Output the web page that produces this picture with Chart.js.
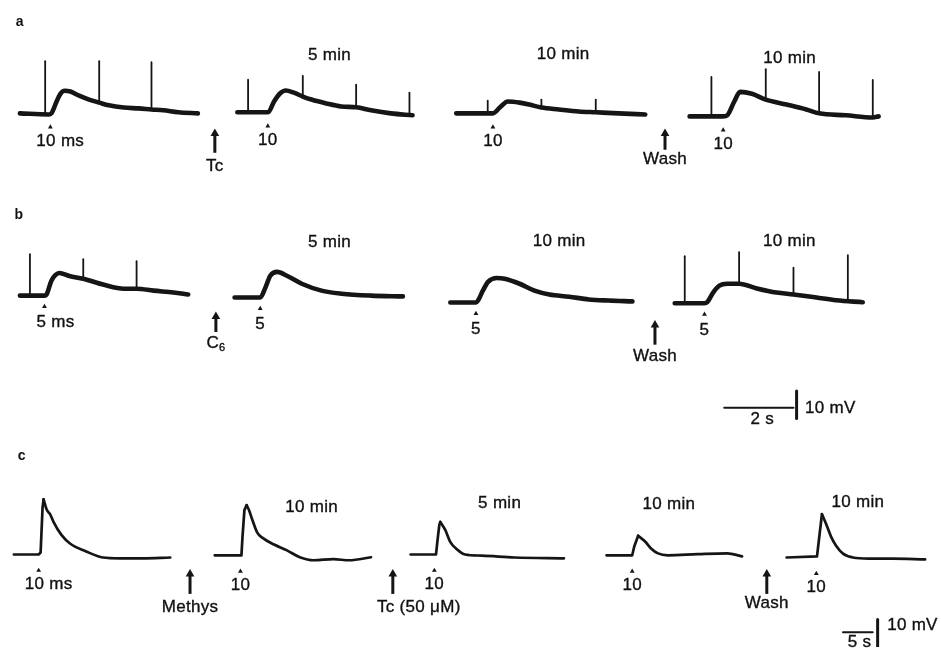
<!DOCTYPE html>
<html>
<head>
<meta charset="utf-8">
<script src="https://cdn.jsdelivr.net/npm/chart.js@4.4.1/dist/chart.umd.min.js"></script>
<style>
  html, body { margin: 0; padding: 0; background: #fff; }
  #wrap { position: relative; width: 941px; height: 652px; overflow: hidden; }
  .lbl { position: absolute; font-family: "Liberation Sans", Arial, sans-serif; font-size: 17px;
         color: #111; white-space: nowrap; line-height: 1; letter-spacing: 0.3px;
         -webkit-text-stroke: 0.35px #111; }
  .lbl.bold { font-weight: bold; font-size: 14px; -webkit-text-stroke: 0; }
  .lbl sub { font-size: 11px; vertical-align: -3px; line-height: 0; }
</style>
</head>
<body>
<div id="wrap"><canvas id="fig"></canvas></div>
<script>
// Every sweep: [time (s) from start of sweep, mV above resting level]
// ---- a : 10 ms stimulus, Tc then wash ----
const a1 = [[0,0],[0.83,-0.4],[0.91,0],[1.06,4.3],[1.17,7.1],[1.29,8.2],[1.46,7.9],[1.71,6.4],[2.0,5.0],[2.29,3.9],[2.57,2.9],[3.0,2.1],[3.43,1.8],[3.8,1.4],[4.14,1.1],[4.57,0.4],[5.14,0]];
const a2 = [[0,0],[0.29,0],[0.89,0],[1.06,3.9],[1.23,6.8],[1.4,7.9],[1.63,7.1],[1.89,5.7],[2.14,4.6],[2.57,3.2],[3.0,2.1],[3.43,1.8],[3.86,0.7],[4.43,-0.4],[5.06,-1.1]];
const a3 = [[0,0],[1.06,0],[1.26,2.1],[1.49,4.3],[1.83,3.9],[2.11,3.2],[2.46,2.1],[2.97,1.4],[3.54,0.7],[4.03,0.4],[4.69,0],[5.46,-0.4]];
const a4 = [[0,0],[0.97,0],[1.09,0.4],[1.29,5.4],[1.46,8.9],[1.8,8.2],[2.2,6.1],[2.8,4.3],[3.37,2.5],[3.74,1.1],[4.51,0.4],[5.29,-0.4],[5.46,0]];
// action potentials: [time, foot mV, tip mV]
const a1Spikes = [[0.73,0,18.9],[2.29,3.9,18.9],[3.8,1.4,18.6]];
const a2Spikes = [[0.31,0,11.8],[1.89,5.7,13.2],[3.43,1.8,10.0],[4.97,-1.1,7.1]];
const a3Spikes = [[0.91,0,4.6],[2.46,2.1,5.0],[4.03,0.4,5.0]];
const a4Spikes = [[0.63,0,14.3],[2.2,6.1,17.1],[3.74,1.1,16.1],[5.29,-0.4,13.2]];
const aStim = [0.88, 0.88, 1.06, 0.97];
const aStimLabels = ['10 ms', '10', '10', '10'];
const aTimes = ['', '5 min', '10 min', '10 min'];

// ---- b : 5 ms stimulus, C6 then wash ----
const b1 = [[0,0],[0.71,0],[0.77,0.4],[0.91,5.4],[1.03,7.5],[1.14,8.2],[1.43,7.1],[1.83,6.1],[2.43,3.9],[3.0,2.5],[3.37,2.5],[3.86,1.8],[4.43,1.1],[4.86,0.4]];
const b2 = [[0,0],[0.74,0],[0.89,3.6],[1.03,7.9],[1.23,9.3],[1.51,7.9],[1.94,5.0],[2.51,2.5],[3.09,1.4],[3.94,0.7],[4.86,0.4]];
const b3 = [[0,0],[0.74,0],[0.8,0.7],[0.94,4.3],[1.09,7.5],[1.34,8.9],[1.57,8.6],[2.0,6.8],[2.43,4.3],[2.86,2.9],[3.43,2.1],[4.0,1.1],[4.57,0.7],[5.26,0.4]];
const b4 = [[0,0],[0.86,0],[0.94,0.4],[1.11,3.9],[1.29,6.4],[1.51,7.1],[1.86,7.1],[2.37,5.4],[2.94,3.9],[3.43,3.2],[4.09,2.1],[4.66,1.1],[5.43,0.4]];
const b1Spikes = [[0.29,0,15.0],[1.83,6.1,13.2],[3.37,2.5,12.5]];
const b4Spikes = [[0.29,0,17.1],[1.86,7.1,18.6],[3.43,3.2,12.9],[5.0,1.1,17.5]];
const bStim = [0.71, 0.74, 0.74, 0.86];
const bStimLabels = ['5 ms', '5', '5', '5'];
const bTimes = ['', '5 min', '10 min', '10 min'];

// ---- c : 10 ms stimulus, Methys, Tc (50 uM), wash ----
const c1 = [[0,0],[4.17,0],[4.5,0.7],[4.83,17.1],[5.0,20.0],[5.5,16.4],[6.17,14.3],[6.67,11.8],[8.0,7.1],[9.5,3.9],[12.17,1.1],[15.0,-1.1],[17.83,-1.4],[21.67,-1.4],[26.33,-1.1]];
const c2 = [[0,0],[4.5,0],[4.67,6.4],[5.0,16.4],[5.38,18.2],[5.83,16.1],[6.33,12.9],[7.17,8.2],[8.0,6.4],[10.0,3.9],[12.17,1.8],[14.33,-0.7],[16.67,-1.8],[20.0,-1.4],[22.67,-1.8],[26.33,-0.7]];
const c3 = [[0,0],[4.28,0],[4.5,4.6],[4.83,10.7],[5.0,11.8],[5.83,8.9],[6.67,4.6],[7.83,1.8],[9.17,0],[12.0,-0.4],[17.5,-1.1],[25.83,-1.4]];
const c4 = [[0,0],[4.33,0],[4.67,3.2],[5.33,7.1],[6.5,5.0],[7.5,2.5],[8.67,0.7],[10.33,0],[15.33,0.4],[20.33,0.7],[22.83,-0.4]];
const c5 = [[0,0],[5.12,0.4],[5.5,7.5],[5.95,15.7],[6.67,12.1],[7.5,7.5],[8.33,4.3],[9.5,1.4],[11.17,0],[13.83,-0.4],[17.83,-0.4],[23.33,-0.7]];
const cStim = [4.17, 4.33, 4.0, 4.33, 5.0];
const cStimLabels = ['10 ms', '10', '10', '10', '10'];
const cTimes = ['', '10 min', '5 min', '10 min', '10 min'];

// calibration bars
const barAB = { seconds: 2, mV: 10 };
const barC = { seconds: 5, mV: 10 };

// ---- layout (axis units: s across, mV up; top of figure = 0 mV) ----
const panels = [
  { axis: 'x', lineWidth: 4.6, traces: [a1, a2, a3, a4], spikes: [a1Spikes, a2Spikes, a3Spikes, a4Spikes],
    stim: aStim, stimLabels: aStimLabels, times: aTimes,
    origins: [[0.43,-39.3],[6.71,-38.9],[13.03,-39.3],[19.77,-40.4]],
    timePos: [null,[2.66,20.4],[3.09,21.1],[2.89,20.7]], markDv: -5, labelDv: -10.4 },
  { axis: 'x', lineWidth: 4.6, traces: [b1, b2, b3, b4], spikes: [b1Spikes, [], [], b4Spikes],
    stim: bStim, stimLabels: bStimLabels, times: bTimes,
    origins: [[0.43,-105.4],[6.63,-106.1],[12.86,-107.9],[19.34,-108.2]],
    timePos: [null,[2.74,19.6],[3.14,22.1],[3.31,22.1]], markDv: -4, labelDv: -10 },
  { axis: 'xc', lineWidth: 2.7, sharpPeak: true, traces: [c1, c2, c3, c4, c5], spikes: [],
    stim: cStim, stimLabels: cStimLabels, times: cTimes,
    origins: [[1.5,-199.3],[35.33,-199.6],[68.33,-199.3],[101.33,-199.6],[131.67,-200.4]],
    timePos: [null,[16.33,17.1],[15.0,18.2],[10.5,18.2],[12.0,19.6]], markDv: -5.8, labelDv: -11.2 }
];
// drug arrows: x, shaft foot, head centre, label, label y
const arrows = [
  { axis: 'x', x: 6.06, foot: -53.6, head: -46.6, text: 'Tc', ty: -58.9 },
  { axis: 'x', x: 19.06, foot: -52.5, head: -46.6, text: 'Wash', ty: -56.4 },
  { axis: 'x', x: 6.09, foot: -118.6, head: -113.0, text: 'C<sub>6</sub>', ty: -123.0 },
  { axis: 'x', x: 18.77, foot: -123.2, head: -116.1, text: 'Wash', ty: -127.5 },
  { axis: 'xc', x: 31.17, foot: -213.6, head: -206.4, text: 'Methys', ty: -218.6 },
  { axis: 'xc', x: 65.33, foot: -213.6, head: -206.4, text: 'Tc (50 μM)', ty: -218.6, dx: 26 },
  { axis: 'xc', x: 128.33, foot: -213.6, head: -206.4, text: 'Wash', ty: -217.1 }
];

const ink = '#151515';
const datasets = [];
const labels = [
  { axis: 'x', x: 0.43, y: -6.4, text: 'a', bold: true },
  { axis: 'x', x: 0.40, y: -76.4, text: 'b', bold: true },
  { axis: 'xc', x: 2.83, y: -163.9, text: 'c', bold: true }
];

function line(axis, pts, width, smooth) {
  const ds = { data: pts, xAxisID: axis, showLine: true, borderColor: ink, borderWidth: width,
               pointRadius: 0, borderCapStyle: 'round', borderJoinStyle: 'round' };
  if (smooth) ds.cubicInterpolationMode = 'monotone';
  return ds;
}

panels.forEach(p => {
  p.traces.forEach((tr, i) => {
    const [t0, v0] = p.origins[i];
    const pts = tr.map(([t, v]) => ({ x: t0 + t, y: v0 + v }));
    if (p.sharpPeak) {
      // fast rise drawn straight, decay smoothed, so the peak keeps its point
      let k = 0;
      tr.forEach(([, v], j) => { if (v > tr[k][1]) k = j; });
      datasets.push(line(p.axis, pts.slice(0, k + 1), p.lineWidth, false));
      datasets.push(line(p.axis, pts.slice(k), p.lineWidth, true));
    } else {
      datasets.push(line(p.axis, pts, p.lineWidth, true));
    }
    (p.spikes[i] || []).forEach(([t, foot, tip]) => {
      datasets.push(line(p.axis, [{ x: t0 + t, y: v0 + foot }, { x: t0 + t, y: v0 + tip }], 1.8));
    });
    // stimulus marker
    datasets.push({ data: [{ x: t0 + p.stim[i], y: v0 + p.markDv }], xAxisID: p.axis, showLine: false,
                    pointStyle: 'triangle', pointRadius: 2.8, backgroundColor: ink, borderWidth: 0 });
    const first = i === 0;
    labels.push({ axis: p.axis, x: t0 + p.stim[i], y: v0 + p.labelDv, text: p.stimLabels[i],
                  align: first ? 'left' : 'center', dx: first ? -(p.stimLabels[i].indexOf(' ') * 6 + 2) : 0 });
    if (p.times[i]) {
      labels.push({ axis: p.axis, x: t0 + p.timePos[i][0], y: v0 + p.timePos[i][1], text: p.times[i] });
    }
  });
});

arrows.forEach(a => {
  datasets.push({ data: [{ x: a.x, y: a.foot }, { x: a.x, y: a.head }], xAxisID: a.axis, showLine: true,
                  borderColor: ink, borderWidth: 3, pointStyle: 'triangle', pointRadius: [0, 5],
                  backgroundColor: ink, pointBorderWidth: 0 });
  labels.push({ axis: a.axis, x: a.x, y: a.ty, text: a.text, dx: a.dx || 0 });
});

// calibration bars
const barAB0 = [20.77, -146.1], barC0 = [141.17, -227.5];
datasets.push(line('x', [{ x: barAB0[0], y: barAB0[1] }, { x: barAB0[0] + barAB.seconds, y: barAB0[1] }], 2));
datasets.push(line('x', [{ x: 22.86, y: -150 }, { x: 22.86, y: -150 + barAB.mV }], 3));
labels.push({ axis: 'x', x: barAB0[0] + barAB.seconds / 2 + 0.1, y: -150.5, text: barAB.seconds + ' s' });
labels.push({ axis: 'x', x: 23.1, y: -146.6, text: barAB.mV + ' mV', align: 'left' });
datasets.push(line('xc', [{ x: barC0[0], y: barC0[1] }, { x: barC0[0] + barC.seconds, y: barC0[1] }], 2));
datasets.push(line('xc', [{ x: 147.0, y: -232.9 }, { x: 147.0, y: -232.9 + barC.mV }], 3));
labels.push({ axis: 'xc', x: barC0[0] + barC.seconds / 2 + 0.3, y: -231.5, text: barC.seconds + ' s' });
labels.push({ axis: 'xc', x: 148.6, y: -225.4, text: barC.mV + ' mV', align: 'left' });

const overlay = {
  id: 'overlay',
  afterRender(chart) {
    if (chart.$labelsDone) return;
    chart.$labelsDone = true;
    const wrap = document.getElementById('wrap');
    labels.forEach(l => {
      const el = document.createElement('div');
      el.className = 'lbl' + (l.bold ? ' bold' : '');
      el.innerHTML = l.text;
      const px = chart.scales[l.axis].getPixelForValue(l.x) + (l.dx || 0);
      const py = chart.scales.y.getPixelForValue(l.y) - 2;
      el.style.left = px + 'px';
      el.style.top = py + 'px';
      el.style.transform = l.align === 'left' ? 'translate(0,-50%)' : 'translate(-50%,-50%)';
      wrap.appendChild(el);
    });
  }
};

new Chart(document.getElementById('fig'), {
  type: 'scatter',
  data: { datasets },
  options: {
    responsive: true,
    maintainAspectRatio: false,
    animation: false,
    events: [],
    devicePixelRatio: 1,
    layout: { padding: 0 },
    plugins: { legend: { display: false }, tooltip: { enabled: false } },
    scales: {
      x: { type: 'linear', position: 'bottom', display: false, min: 0, max: 941 / 35 },   // 35 px per s
      xc: { type: 'linear', position: 'bottom', display: false, min: 0, max: 941 / 6 },   // 6 px per s
      y: { type: 'linear', display: false, min: -652 / 2.8, max: 0 }                      // 2.8 px per mV
    }
  },
  plugins: [overlay]
});
</script>
</body>
</html>
